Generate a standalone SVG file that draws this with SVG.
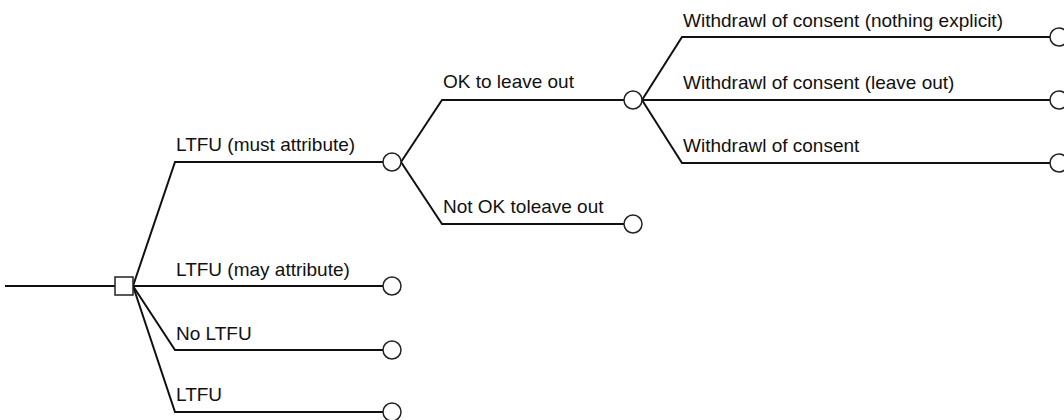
<svg xmlns="http://www.w3.org/2000/svg" width="1064" height="420" viewBox="0 0 1064 420">
  <style>
    .edge { fill: none; stroke: #111; stroke-width: 2; stroke-linejoin: miter; }
    .chance { fill: #fff; stroke: #222; stroke-width: 1.5; }
    .decision { fill: #fff; stroke: #222; stroke-width: 1.5; }
    .lbl { font-family: "Liberation Sans", Arial, sans-serif; font-size: 19px; fill: #111; }
  </style>
  <rect width="1064" height="420" fill="#fff"/>

  <!-- branches of the tree -->
  <g id="connectors">
    <path class="edge" d="M5,286 H115"/>
    <path class="edge" d="M133,286 L175,162 H383"/>
    <path class="edge" d="M133,286 H383"/>
    <path class="edge" d="M133,286 L175,350 H383"/>
    <path class="edge" d="M133,286 L175,412 H383"/>
    <path class="edge" d="M401,162 L442,100 H624"/>
    <path class="edge" d="M401,162 L442,224 H624"/>
    <path class="edge" d="M642,100 L682,37 H1050"/>
    <path class="edge" d="M642,100 H1050"/>
    <path class="edge" d="M642,100 L682,163 H1050"/>
  </g>

  <!-- branch labels -->
  <g id="labels">
    <text class="lbl" x="176" y="151">LTFU (must attribute)</text>
    <text class="lbl" x="176" y="276">LTFU (may attribute)</text>
    <text class="lbl" x="176" y="340">No LTFU</text>
    <text class="lbl" x="176" y="401">LTFU</text>
    <text class="lbl" x="443" y="88">OK to leave out</text>
    <text class="lbl" x="443" y="213">Not OK toleave out</text>
    <text class="lbl" x="683" y="27">Withdrawl of consent (nothing explicit)</text>
    <text class="lbl" x="683" y="89">Withdrawl of consent (leave out)</text>
    <text class="lbl" x="683" y="152">Withdrawl of consent</text>
  </g>

  <!-- nodes -->
  <g id="decision"><rect class="decision" x="115" y="277" width="18" height="18"/></g>
  <g id="n-must"><circle class="chance" cx="392" cy="162" r="9"/></g>
  <g id="n-may"><circle class="chance" cx="392" cy="286" r="9"/></g>
  <g id="n-noltfu"><circle class="chance" cx="392" cy="350" r="9"/></g>
  <g id="n-ltfu"><circle class="chance" cx="392" cy="412" r="9"/></g>
  <g id="n-ok"><circle class="chance" cx="633" cy="100" r="9"/></g>
  <g id="n-notok"><circle class="chance" cx="633" cy="224" r="9"/></g>
  <g id="n-w1"><circle class="chance" cx="1059" cy="37" r="9"/></g>
  <g id="n-w2"><circle class="chance" cx="1059" cy="100" r="9"/></g>
  <g id="n-w3"><circle class="chance" cx="1059" cy="163" r="9"/></g>
</svg>
